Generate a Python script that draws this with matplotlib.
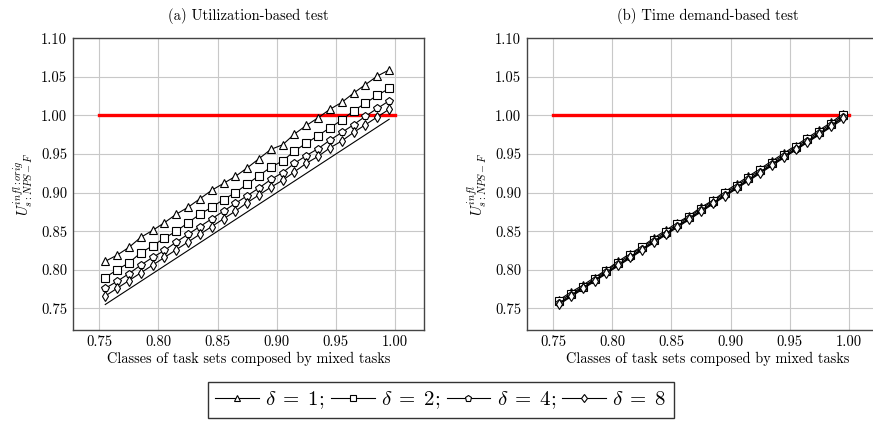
"""Recreate the two-panel NPS-F utilization chart and save it to out.png."""

import matplotlib
matplotlib.use("Agg")
import matplotlib.pyplot as plt
from matplotlib.lines import Line2D

plt.rcParams["font.family"] = ["cmr10", "DejaVu Serif"]
plt.rcParams["mathtext.fontset"] = "cm"
plt.rcParams["axes.formatter.use_mathtext"] = True
plt.rcParams["axes.unicode_minus"] = False

# Classes of task sets (x axis)
classes = [0.755, 0.765, 0.775, 0.785, 0.795, 0.805, 0.815, 0.825, 0.835,
           0.845, 0.855, 0.865, 0.875, 0.885, 0.895, 0.905, 0.915, 0.925,
           0.935, 0.945, 0.955, 0.965, 0.975, 0.985, 0.995]

# (a) Utilization-based test
util_d1 = [0.811, 0.819, 0.829, 0.842, 0.851, 0.861, 0.872, 0.881, 0.892,
           0.903, 0.912, 0.921, 0.932, 0.944, 0.956, 0.962, 0.976, 0.987,
           0.997, 1.008, 1.017, 1.029, 1.040, 1.051, 1.059]
util_d2 = [0.790, 0.800, 0.809, 0.822, 0.831, 0.841, 0.850, 0.861, 0.872,
           0.881, 0.891, 0.900, 0.911, 0.922, 0.933, 0.941, 0.954, 0.964,
           0.974, 0.984, 0.994, 1.006, 1.016, 1.026, 1.035]
util_d4 = [0.776, 0.785, 0.795, 0.806, 0.816, 0.825, 0.836, 0.846, 0.856,
           0.866, 0.876, 0.886, 0.896, 0.906, 0.917, 0.926, 0.938, 0.948,
           0.957, 0.968, 0.978, 0.988, 0.999, 1.009, 1.019]
util_d8 = [0.766, 0.776, 0.786, 0.796, 0.806, 0.816, 0.826, 0.836, 0.846,
           0.856, 0.866, 0.876, 0.887, 0.897, 0.907, 0.916, 0.927, 0.938,
           0.947, 0.958, 0.967, 0.978, 0.988, 0.998, 1.008]

# (b) Time demand-based test
tda_d1 = [0.761, 0.771, 0.780, 0.790, 0.800, 0.811, 0.821, 0.830, 0.841,
          0.851, 0.861, 0.870, 0.881, 0.890, 0.901, 0.911, 0.921, 0.931,
          0.941, 0.951, 0.961, 0.971, 0.981, 0.991, 1.002]
tda_d2 = [0.759, 0.769, 0.778, 0.788, 0.799, 0.809, 0.819, 0.829, 0.839,
          0.849, 0.859, 0.869, 0.879, 0.889, 0.899, 0.909, 0.919, 0.929,
          0.939, 0.949, 0.959, 0.969, 0.979, 0.989, 1.000]
tda_d4 = [0.757, 0.767, 0.777, 0.787, 0.797, 0.807, 0.817, 0.827, 0.837,
          0.847, 0.857, 0.867, 0.877, 0.887, 0.897, 0.907, 0.917, 0.927,
          0.937, 0.947, 0.957, 0.967, 0.977, 0.987, 0.998]
tda_d8 = [0.756, 0.766, 0.776, 0.786, 0.796, 0.806, 0.816, 0.826, 0.836,
          0.846, 0.856, 0.866, 0.876, 0.886, 0.896, 0.906, 0.916, 0.926,
          0.936, 0.946, 0.956, 0.966, 0.976, 0.986, 0.997]

deltas = [1, 2, 4, 8]
markers = ["^", "s", "p", "d"]
limit_x = [0.75, 1.0]
limit_y = [1.0, 1.0]

titles = ["(a) Utilization-based test", "(b) Time demand-based test"]
ylabels = [r"$U^{infl:orig}_{s:NPS-F}$", r"$U^{infl}_{s:NPS-F}$"]
xticks = [0.75, 0.80, 0.85, 0.90, 0.95, 1.00]
yticks = [0.75, 0.80, 0.85, 0.90, 0.95, 1.00, 1.05, 1.10]


def draw_panel(ax, series, title, ylabel):
    ax.plot(limit_x, limit_y, color="red", linewidth=2.4, zorder=2)
    ax.plot(classes, classes, color="black", linewidth=0.8, zorder=3)
    for values, marker in zip(series, markers):
        ax.plot(classes, values, color="black", linewidth=0.8, marker=marker,
                markersize=5.5, markerfacecolor="white",
                markeredgecolor="black", markeredgewidth=0.8, zorder=4)
    ax.set_xlim(0.7275, 1.0248)
    ax.set_ylim(0.722, 1.10)
    ax.set_xticks(xticks)
    ax.set_yticks(yticks)
    ax.set_xticklabels([f"{t:.2f}" for t in xticks])
    ax.set_yticklabels([f"{t:.2f}" for t in yticks])
    ax.grid(True, color="#c8c8c8", linewidth=0.8)
    ax.set_axisbelow(True)
    ax.tick_params(direction="in", length=0, pad=4, labelsize=10.5)
    for spine in ax.spines.values():
        spine.set_color("#444444")
        spine.set_linewidth(1.0)
    ax.set_title(title, fontsize=10.5, pad=13)
    ax.set_xlabel("Classes of task sets composed by mixed tasks", fontsize=10.3,
                  labelpad=2)
    ax.set_ylabel(ylabel, fontsize=10.5)


fig = plt.figure(figsize=(8.73, 4.21), dpi=100)
ax1 = fig.add_axes([0.0833, 0.2162, 0.4028, 0.6929])
ax2 = fig.add_axes([0.6033, 0.2162, 0.4150, 0.6929])
ax2.set_xlim(0.7275, 1.0248)

draw_panel(ax1, [util_d1, util_d2, util_d4, util_d8], titles[0], ylabels[0])
draw_panel(ax2, [tda_d1, tda_d2, tda_d4, tda_d8], titles[1], ylabels[1])
# the right panel runs past the figure edge, keep the same data scale
ax2.set_xlim(0.7276, 0.7276 + (1.0248 - 0.7275) * 0.4150 / 0.4028)

handles = [Line2D([], [], color="black", linewidth=0.8, marker=m, markersize=4.5,
                  markerfacecolor="white", markeredgecolor="black",
                  markeredgewidth=0.8) for m in markers]
labels = [rf"$\delta \;=\; {d}$;" for d in deltas[:-1]] + \
         [rf"$\delta \;=\; {deltas[-1]}$"]
leg = fig.legend(handles, labels, loc="upper center", ncol=4,
                 bbox_to_anchor=(0.505, 0.0935), fontsize=15, frameon=True,
                 fancybox=False, handlelength=2.1, handletextpad=0.3,
                 columnspacing=0.3, borderpad=0.35, borderaxespad=0)
leg.get_frame().set_edgecolor("black")
leg.get_frame().set_linewidth(1.0)

fig.savefig("out.png", dpi=100)
